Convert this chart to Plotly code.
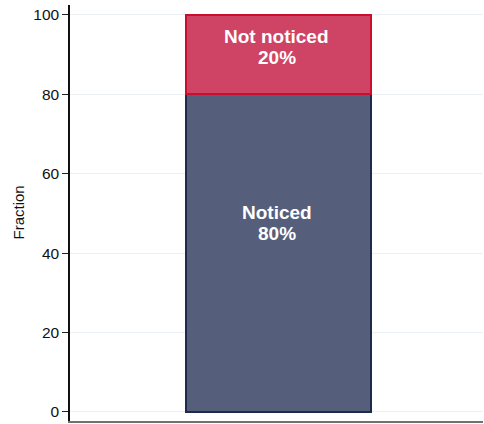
import plotly.graph_objects as go

categories = [""]
segment_names = ["Noticed", "Not noticed"]
segment_values = [80, 20]
fill_colors = ["#555F7B", "#CF4365"]
line_colors = ["#1E2A4C", "#C8102E"]
y_ticks = [0, 20, 40, 60, 80, 100]
y_title = "Fraction"

FONT = "Liberation Sans, Arial, Helvetica"

fig = go.Figure()
base = 0
annotations = []
for name, val, fc, lc in zip(segment_names, segment_values, fill_colors, line_colors):
    fig.add_trace(go.Bar(
        x=categories, y=[val], name=name,
        marker=dict(color=fc, line=dict(color=lc, width=2)),
        width=0.448, hoverinfo="skip",
    ))
    ypos = base + 0.594 * val
    for txt, shift in ((name, 10.5), (f"{val}%", -10.5)):
        annotations.append(dict(
            x=categories[0], y=ypos, xref="x", yref="y", yshift=shift,
            text=f"<b>{txt}</b>", showarrow=False,
            font=dict(family=FONT, size=19, color="white"),
        ))
    base += val

annotations.append(dict(
    x=0, y=0.5, xref="paper", yref="paper", xshift=-52.5,
    text=y_title, textangle=-90, showarrow=False,
    xanchor="center", yanchor="middle",
    font=dict(family=FONT, size=15, color="#111111"),
))

fig.update_layout(
    barmode="stack",
    width=484, height=424,
    margin=dict(l=70, r=1, t=5, b=3, autoexpand=False),
    plot_bgcolor="white", paper_bgcolor="white",
    showlegend=False,
    annotations=annotations,
    font=dict(family=FONT, color="#111111"),
)
fig.update_xaxes(
    range=[-0.505, 0.495], showticklabels=False, ticks="",
    showline=True, linecolor="#707070", linewidth=2, showgrid=False,
    automargin=False,
)
fig.update_yaxes(
    range=[-2.27, 102.5], tickvals=y_ticks, ticks="outside", ticklen=6,
    tickcolor="#222222", tickwidth=1, tickfont=dict(family=FONT, size=15.5),
    showline=True, linecolor="#111111", linewidth=1.5,
    showgrid=True, gridcolor="#EBF0F5", gridwidth=1, zeroline=False,
    automargin=False,
)

fig.write_html(
    "out.html",
    config={"displayModeBar": False},
    post_script="document.body.style.margin='0';document.body.style.padding='0';",
)
